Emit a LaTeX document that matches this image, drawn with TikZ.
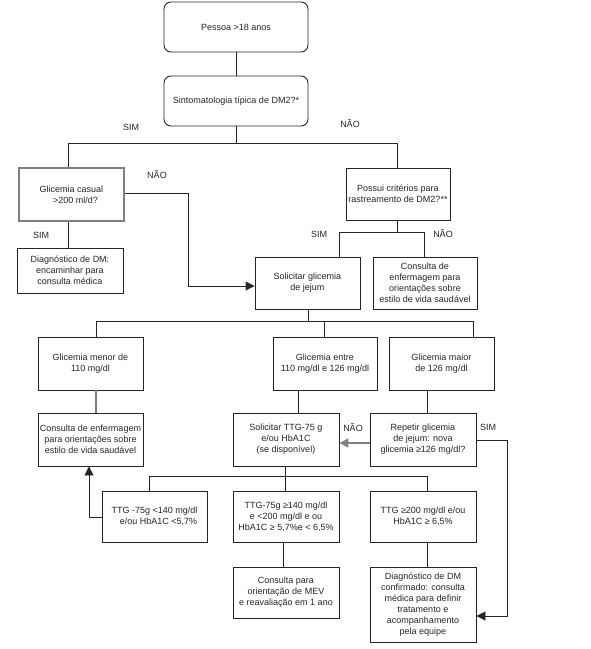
\documentclass[tikz,border=0pt]{standalone}
\usepackage{fontspec}
\setmainfont{Liberation Sans}
\usetikzlibrary{arrows.meta}
\begin{document}
\begin{tikzpicture}[x=1pt,y=-1pt,
  box/.style={draw=black!85,line width=0.9pt,align=center,inner sep=0pt,
    font=\fontsize{9}{11}\selectfont,text=black!85},
  rbox/.style={box,rounded corners=7pt},
  lbl/.style={font=\fontsize{9}{11}\selectfont,text=black!85},
  conn/.style={draw=black!85,line width=0.9pt},
  gconn/.style={draw=black!50,line width=1.1pt},
  arr/.style={-{Triangle[length=9pt,width=9pt]}}]
\useasboundingbox (0,0) rectangle (591,649);
\fill[white] (0,0) rectangle (591,649);
% nodes
\node[rbox,minimum width=144,minimum height=50] (b1) at (236,27) {Pessoa >18 anos};
\node[rbox,minimum width=144,minimum height=50] (b2) at (236,101) {Sintomatologia típica de DM2?*};
\node[box,draw=black!50,line width=1.5pt,minimum width=105,minimum height=53] (b3) at (71.5,194.5) {Glicemia casual\\\hspace*{8pt}>200 ml/d?};
\node[box,minimum width=104,minimum height=52] (b4) at (398,194) {Possui critérios para\\rastreamento de DM2?**};
\node[box,minimum width=106,minimum height=45] (b5) at (70,270.5) {Diagnóstico de DM:\\encaminhar para\\consulta médica};
\node[box,minimum width=105,minimum height=52] (b6) at (307.5,283) {Solicitar glicemia\\de jejum};
\node[box,minimum width=104,minimum height=52] (b7) at (425,283) {Consulta de\\enfermagem para\\orientações sobre\\estilo de vida saudável};
\node[box,minimum width=105,minimum height=53] (b8) at (90.5,363.5) {Glicemia menor de\\110 mg/dl};
\node[box,minimum width=104,minimum height=53] (b9) at (325,363.5) {Glicemia entre\\110 mg/dl e 126 mg/dl};
\node[box,minimum width=105,minimum height=53] (b10) at (441.5,363.5) {Glicemia maior\\de 126 mg/dl};
\node[box,minimum width=105,minimum height=53] (b11) at (90.5,439.5) {Consulta de enfermagem\\para orientações sobre\\estilo de vida saudável};
\node[box,minimum width=106,minimum height=53] (b12) at (286,439.5) {Solicitar TTG-75 g\\e/ou HbA1C\\(se disponível)};
\node[box,minimum width=106,minimum height=53] (b13) at (423,439.5) {Repetir glicemia\\de jejum: nova\\glicemia ≥126 mg/dl?};
\node[box,minimum width=105,minimum height=51] (b14) at (154.5,516.5) {TTG -75g <140 mg/dl\\\hspace*{8pt}e/ou HbA1C <5,7\%};
\node[box,minimum width=106,minimum height=51] (b15) at (286,516.5) {TTG-75g ≥140 mg/dl\\e <200 mg/dl e ou\\HbA1C ≥ 5,7\%e < 6,5\%};
\node[box,minimum width=106,minimum height=51] (b16) at (423,516.5) {TTG ≥200 mg/dl e/ou\\HbA1C ≥ 6,5\%};
\node[box,minimum width=106,minimum height=51] (b17) at (286,592.5) {Consulta para\\orientação de MEV\\e reavaliação em 1 ano};
\node[box,minimum width=106,minimum height=75] (b18) at (423,604.5) {Diagnóstico de DM\\confirmado: consulta\\médica para definir\\tratamento e\\acompanhamento\\pela equipe};
% labels
\node[lbl] (l1) at (131,127) {SIM};
\node[lbl] (l2) at (350,124) {NÃO};
\node[lbl] (l3) at (157,175) {NÃO};
\node[lbl] (l4) at (41,235) {SIM};
\node[lbl] (l5) at (319,234) {SIM};
\node[lbl] (l6) at (443,234) {NÃO};
\node[lbl] (l7) at (353,428) {NÃO};
\node[lbl] (l8) at (488,427) {SIM};
% junction coordinates
\coordinate (j1) at (236,143);
\coordinate (x68) at (68,0);
\coordinate (x397) at (397,0);
\coordinate (j2) at (188,0);
\coordinate (j3) at (397,232);
\coordinate (x339) at (339,0);
\coordinate (x424) at (424,0);
\coordinate (j4) at (308,321);
\coordinate (x96) at (96,0);
\coordinate (x324) at (324,0);
\coordinate (x473) at (473,0);
\coordinate (x298) at (298,0);
\coordinate (x427) at (427,0);
\coordinate (x507) at (507,0);
\coordinate (j5) at (285,476);
\coordinate (x149) at (149,0);
\coordinate (x89) at (89,0);
\coordinate (x283) at (283,0);
\coordinate (y193) at (0,193);
\coordinate (y286) at (0,286);
\coordinate (y443) at (0,443);
\coordinate (y440) at (0,440);
\coordinate (y616) at (0,616);
\coordinate (y517) at (0,517);
% connectors
\draw[conn] (b1) -- (b2);
\draw[conn] (b2.south) -- (j1);
\draw[conn] (x68 |- j1) -- (x397 |- j1);
\draw[conn] (x68 |- j1) -- (x68 |- b3.north);
\draw[conn] (x397 |- j1) -- (x397 |- b4.north);
\draw[conn,arr] (b3.east |- y193) -- (j2 |- y193) -- (j2 |- y286) -- (b6.west |- y286);
\draw[conn] (x68 |- b3.south) -- (x68 |- b5.north);
\draw[conn] (x397 |- b4.south) -- (j3);
\draw[conn] (x339 |- j3) -- (x424 |- j3);
\draw[conn] (x339 |- j3) -- (x339 |- b6.north);
\draw[conn] (x424 |- j3) -- (x424 |- b7.north);
\draw[conn] (j4 |- b6.south) -- (j4);
\draw[conn] (x96 |- j4) -- (x473 |- j4);
\draw[conn] (x96 |- j4) -- (x96 |- b8.north);
\draw[conn] (x324 |- j4) -- (x324 |- b9.north);
\draw[conn] (x473 |- j4) -- (x473 |- b10.north);
\draw[gconn] (x96 |- b8.south) -- (x96 |- b11.north);
\draw[conn] (x298 |- b9.south) -- (x298 |- b12.north);
\draw[conn] (x427 |- b10.south) -- (x427 |- b13.north);
\draw[gconn,arr] (b13.west |- y443) -- (b12.east |- y443);
\draw[conn,arr] (b13.east |- y440) -- (x507 |- y440) -- (x507 |- y616) -- (b18.east |- y616);
\draw[conn] (j5 |- b12.south) -- (j5);
\draw[conn] (x149 |- j5) -- (x427 |- j5);
\draw[conn] (x149 |- j5) -- (x149 |- b14.north);
\draw[conn] (j5) -- (j5 |- b15.north);
\draw[conn] (x427 |- j5) -- (x427 |- b16.north);
\draw[conn,arr] (b14.west |- y517) -- (x89 |- y517) -- (x89 |- b11.south);
\draw[conn] (x283 |- b15.south) -- (x283 |- b17.north);
\draw[conn] (x427 |- b16.south) -- (x427 |- b18.north);
\end{tikzpicture}
\end{document}
